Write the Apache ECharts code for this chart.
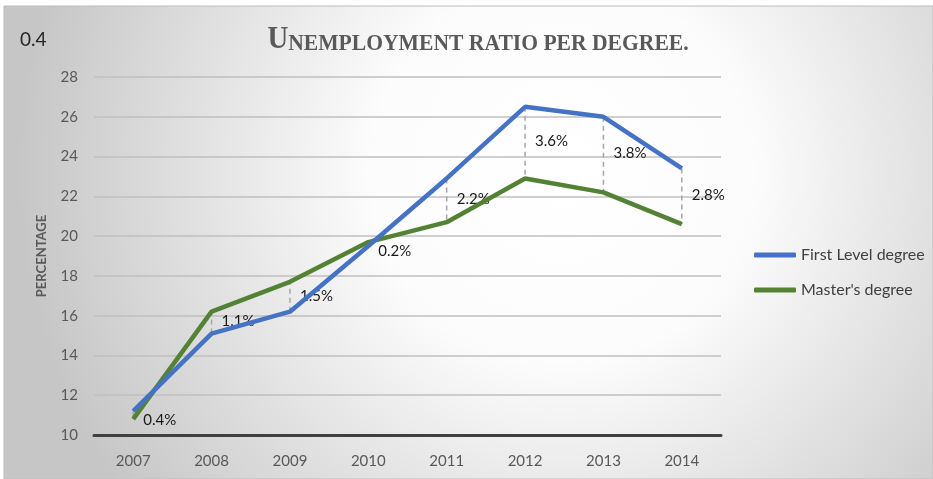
<!DOCTYPE html>
<html>
<head>
<meta charset="utf-8">
<script src="https://cdn.jsdelivr.net/npm/echarts@6/dist/echarts.min.js"></script>
<style>
  html, body { margin: 0; padding: 0; background: #ffffff; }
  #chart { width: 933px; height: 479px; }
</style>
</head>
<body>
<div id="chart"></div>
<script>
// Years on the category axis
var years = ['2007', '2008', '2009', '2010', '2011', '2012', '2013', '2014'];
// Unemployment ratio (%) by degree level
var firstLevel = [11.2, 15.1, 16.2, 19.5, 22.9, 26.5, 26.0, 23.4];
var masters = [10.8, 16.2, 17.7, 19.7, 20.7, 22.9, 22.2, 20.6];
// Value axis ticks
var yMin = 10, yMax = 28, yStep = 2;

var BLUE = '#4472C4';
var GREEN = '#548235';
var FONT = 'Lato, "Liberation Sans", sans-serif';

// Gap between the two series per year (drawn as a dashed high-low line)
var gapData = years.map(function (y, i) { return [i, firstLevel[i], masters[i]]; });

var chart = echarts.init(document.getElementById('chart'), null, { renderer: 'canvas' });

chart.setOption({
  animation: false,
  backgroundColor: '#ffffff',
  graphic: [
    {
      type: 'rect', z: -10, silent: true,
      shape: { x: 4, y: 6, width: 929, height: 473 },
      style: {
        fill: {
          type: 'radial', x: 0.6, y: 0.35, r: 1.15,
          colorStops: [
            { offset: 0, color: '#ffffff' },
            { offset: 0.35, color: '#fcfcfc' },
            { offset: 1, color: '#c6c6c6' }
          ]
        },
        stroke: '#bdbdbd', lineWidth: 1
      }
    },
    {
      type: 'text', left: 20, top: 30, silent: true,
      style: { text: '0.4', fill: '#262626', font: '19px ' + FONT }
    },
    {
      type: 'text', silent: true,
      x: 478, y: 40, scaleX: 0.9, scaleY: 1,
      style: {
        text: '{a|U}{b|NEMPLOYMENT RATIO PER DEGREE.}',
        align: 'center', verticalAlign: 'middle',
        rich: {
          a: { fontFamily: '"Liberation Serif", serif', fontWeight: 'bold', fontSize: 32, fill: '#595959', verticalAlign: 'bottom' },
          b: { fontFamily: '"Liberation Serif", serif', fontWeight: 'bold', fontSize: 24, fill: '#595959', verticalAlign: 'bottom' }
        }
      }
    }
  ],
  legend: {
    orient: 'vertical',
    left: 749, top: 242,
    itemWidth: 42, itemHeight: 5, itemGap: 19,
    icon: 'roundRect',
    textStyle: { color: '#404040', fontSize: 16, fontFamily: FONT },
    data: ['First Level degree', "Master's degree"]
  },
  grid: { left: 94, right: 212, top: 77, bottom: 44 },
  xAxis: {
    type: 'category',
    data: years,
    boundaryGap: true,
    axisLine: { show: true, lineStyle: { color: '#404040', width: 3 } },
    axisTick: { show: false },
    axisLabel: { color: '#595959', fontSize: 15, fontFamily: FONT, margin: 19 }
  },
  yAxis: {
    type: 'value',
    min: yMin, max: yMax, interval: yStep,
    name: 'PERCENTAGE',
    nameLocation: 'middle',
    nameGap: 46,
    nameRotate: 90,
    nameTextStyle: { color: '#595959', fontSize: 13, fontWeight: 'bold', fontFamily: FONT },
    axisLine: { show: false },
    axisTick: { show: false },
    axisLabel: { color: '#595959', fontSize: 15, fontFamily: FONT, margin: 16 },
    splitLine: { lineStyle: { color: '#bfbfbf', width: 1.5 } }
  },
  series: [
    {
      name: 'gap',
      type: 'custom',
      z: 1,
      silent: true,
      data: gapData,
      encode: { x: 0, y: [1, 2] },
      renderItem: function (params, api) {
        var i = api.value(0);
        var a = api.value(1), b = api.value(2);
        var p1 = api.coord([i, a]);
        var p2 = api.coord([i, b]);
        var top = Math.min(p1[1], p2[1]);
        var mid = (p1[1] + p2[1]) / 2;
        // keep the label just under the upper line when the gap is narrow
        var ly = Math.max(top + 10, mid) - 1;
        var diff = Math.abs(a - b).toFixed(1) + '%';
        return {
          type: 'group',
          children: [
            {
              type: 'line',
              shape: { x1: p1[0], y1: p1[1], x2: p2[0], y2: p2[1] },
              style: { stroke: '#a6a6a6', lineWidth: 1.5, lineDash: [5, 4] }
            },
            {
              type: 'text',
              x: p1[0] + 10, y: ly,
              style: {
                text: diff, fill: '#1a1a1a', font: '15px ' + FONT,
                align: 'left', verticalAlign: 'middle'
              }
            }
          ]
        };
      }
    },
    {
      name: 'First Level degree',
      type: 'line',
      z: 3,
      data: firstLevel,
      symbol: 'none',
      lineStyle: { color: BLUE, width: 4.5 },
      itemStyle: { color: BLUE }
    },
    {
      name: "Master's degree",
      type: 'line',
      z: 2,
      data: masters,
      symbol: 'none',
      lineStyle: { color: GREEN, width: 4.5 },
      itemStyle: { color: GREEN }
    }
  ]
});
</script>
</body>
</html>
